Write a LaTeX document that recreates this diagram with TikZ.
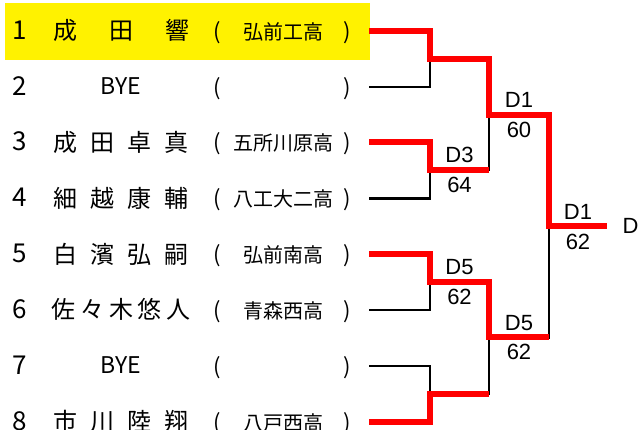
\documentclass[tikz,border=0pt]{standalone}
\usepackage{fontspec}
\newfontfamily\jp{Noto Sans CJK JP}
\newfontfamily\lab{Liberation Sans}
\begin{document}
\begin{tikzpicture}[x=1pt,y=-1pt,
  wl/.style={draw=red,line width=6pt},
  ll/.style={draw=black,line width=2.2pt},
  numtxt/.style={font=\jp\fontsize{26}{26}\selectfont,anchor=base,inner sep=0},
  nametxt/.style={font=\jp\fontsize{24}{24}\selectfont,anchor=base,inner sep=0},
  byetxt/.style={font=\jp\fontsize{23}{23}\selectfont,anchor=base,inner sep=0},
  schtxt/.style={font=\jp\fontsize{20}{20}\selectfont,anchor=base,inner sep=0},
  partxt/.style={font=\jp\fontsize{22}{22}\selectfont,anchor=base,inner sep=0},
  labtxt/.style={font=\lab\fontsize{22}{22}\selectfont,anchor=base,inner sep=0}]
\useasboundingbox (0,0) rectangle (641,430);
\fill[yellow] (5,3) rectangle (370,60);
% rows
\foreach \i/\y in {1/31,2/87,3/142.5,4/198.5,5/254.5,6/310,7/366,8/422}{
  \coordinate (e\i) at (369,\y);
  \node[numtxt] (num\i) at (20,\y+8.5) {\i};
  \node[partxt] (po\i) at (217,\y+8.5) {(};
  \node[partxt] (pc\i) at (347,\y+8.5) {)};
}
% names
\foreach \c [count=\k] in {成,田,響}{\node[nametxt] (na1-\k) at ({65+(\k-1)*56},40) {\c};}
\foreach \c [count=\k] in {成,田,卓,真}{\node[nametxt] (na3-\k) at ({65+(\k-1)*37.33},151.5) {\c};}
\foreach \c [count=\k] in {細,越,康,輔}{\node[nametxt] (na4-\k) at ({65+(\k-1)*37.33},207.5) {\c};}
\foreach \c [count=\k] in {白,濱,弘,嗣}{\node[nametxt] (na5-\k) at ({65+(\k-1)*37.33},263.5) {\c};}
\foreach \c [count=\k] in {佐,々,木,悠,人}{\node[nametxt] (na6-\k) at ({64+(\k-1)*28.5},319) {\c};}
\foreach \c [count=\k] in {市,川,陸,翔}{\node[nametxt] (na8-\k) at ({65+(\k-1)*37.33},431) {\c};}
\node[byetxt] (bye2) at (120.5,94.5) {BYE};
\node[byetxt] (bye7) at (120.5,373.5) {BYE};
% schools
\node[schtxt] (s1) at (283,39.5) {弘前工高};
\node[schtxt] (s3) at (283,151) {五所川原高};
\node[schtxt] (s4) at (283,207) {八工大二高};
\node[schtxt] (s5) at (283,263) {弘前南高};
\node[schtxt] (s6) at (283,318.5) {青森西高};
\node[schtxt] (s8) at (283,430.5) {八戸西高};
% bracket coordinates
\coordinate (q12) at (430,59);
\coordinate (q34) at (430,170);
\coordinate (q56) at (430,282);
\coordinate (q78) at (430,394);
\coordinate (s14) at (489,115);
\coordinate (s58) at (489,337.5);
\coordinate (f) at (549,226.5);
\coordinate (w) at (607,226.5);
% losers
\draw[ll] (e2) -| (q12);
\draw[ll] (e4) -| (q34);
\draw[ll] (e6) -| (q56);
\draw[ll] (e7) -| (q78);
\draw[ll] (q34) -| (s14);
\draw[ll] (q78) -| (s58);
\draw[ll] (s58) -| (f);
% winners
\draw[wl] (e1) -| (q12) -| (s14) -| (f) -- (w);
\draw[wl] (e3) -| (q34) -- (q34 -| s14);
\draw[wl] (e5) -| (q56) -| (s58) -- (s58 -| f);
\draw[wl] (e8) -| (q78) -- (q78 -| s14);
% labels
\node[labtxt] (la1) at (459.5,163) {D3};
\node[labtxt] (lb1) at (459.5,193) {64};
\node[labtxt] (la2) at (519,107.5) {D1};
\node[labtxt] (lb2) at (519,137.5) {60};
\node[labtxt] (la3) at (459.5,275) {D5};
\node[labtxt] (lb3) at (459.5,305) {62};
\node[labtxt] (la4) at (519,330.5) {D5};
\node[labtxt] (lb4) at (519,360) {62};
\node[labtxt] (la5) at (578,219.5) {D1};
\node[labtxt] (lb5) at (578,250) {62};
\node[labtxt] (fin) at (630.5,233.5) {D};
\end{tikzpicture}
\end{document}
